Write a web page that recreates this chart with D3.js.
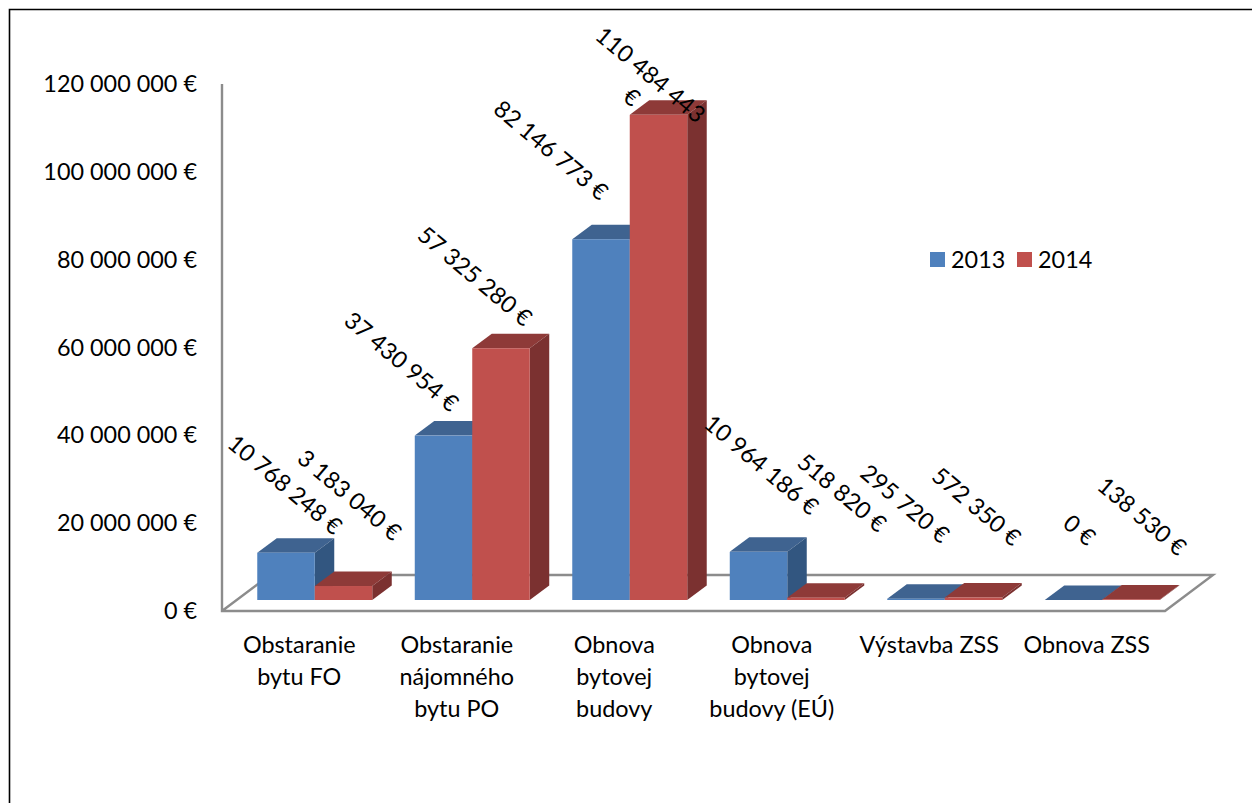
<!DOCTYPE html>
<html lang="sk">
<head>
    <meta charset="UTF-8">
    <title>Obstaranie a obnova 2013 / 2014</title>
    <script src="https://cdnjs.cloudflare.com/ajax/libs/d3/7.8.5/d3.min.js"></script>
    <style>
        html, body { margin: 0; padding: 0; background: #fff; overflow: hidden; }
        text { font-family: Lato, "Open Sans", sans-serif; fill: #000; }
    </style>
</head>
<body>
<script>
    const categories = [
        ['Obstaranie', 'bytu FO'],
        ['Obstaranie', 'nájomného', 'bytu PO'],
        ['Obnova', 'bytovej', 'budovy'],
        ['Obnova', 'bytovej', 'budovy (EÚ)'],
        ['Výstavba ZSS'],
        ['Obnova ZSS']
    ];
    const years = ['2013', '2014'];
    const values2013 = [10768248, 37430954, 82146773, 10964186, 295720, 0];
    const values2014 = [3183040, 57325280, 110484443, 518820, 572350, 138530];
    const yTicks = [0, 20000000, 40000000, 60000000, 80000000, 100000000, 120000000];

    const w = 1252, h = 803;
    const fontSize = 23.4;
    const colors = {
        '2013': {front: '#4f81bd', top: '#3f6390', side: '#325680'},
        '2014': {front: '#c0504d', top: '#8e3a38', side: '#7b3130'}
    };

    const svg = d3.select('body').append('svg')
        .attr('width', w)
        .attr('height', h)
        .style('display', 'block');

    // outer frame, it runs off the page on the right and at the bottom
    svg.append('path')
        .attr('d', 'M9.5,' + h + 'V9.5H' + w)
        .attr('fill', 'none')
        .attr('stroke', '#000')
        .attr('stroke-width', 1.6);

    const yScale = d3.scaleLinear()
        .domain([0, 120000000])
        .range([611, 84]);

    // one band per category, a sub band per year
    const xScale = d3.scaleBand()
        .domain(d3.range(categories.length))
        .range([236, 1181])
        .paddingInner(0.27)
        .paddingOuter(0.135);
    const xYear = d3.scaleBand()
        .domain(years)
        .range([0, xScale.bandwidth()]);

    // 3d projection
    const floorDx = 48, floorDy = 36, floorLift = 11;
    const barDx = 19.5, barDy = 14.5;
    const floorLeft = 222, floorRight = 1165;

    const yFormat = d => d3.format(',')(d).replace(/,/g, ' ') + ' €';

    // floor and wall
    const y0 = yScale(0);
    svg.append('path')
        .attr('d', 'M' + floorLeft + ',' + yScale(120000000) + 'V' + y0 + 'H' + floorRight
            + 'l' + floorDx + ',' + (-floorDy) + 'H' + (floorLeft + floorDx)
            + 'L' + floorLeft + ',' + y0)
        .attr('fill', 'none')
        .attr('stroke', '#8c8c8c')
        .attr('stroke-width', 2.4);

    const yAxis = d3.axisLeft(yScale)
        .tickValues(yTicks)
        .tickFormat(yFormat)
        .tickSize(0)
        .tickPadding(25);
    const yAxisG = svg.append('g')
        .attr('transform', 'translate(' + floorLeft + ',0)')
        .call(yAxis);
    yAxisG.select('.domain').remove();
    yAxisG.selectAll('text')
        .style('font-family', 'Lato, "Open Sans", sans-serif')
        .style('font-size', fontSize + 'px');

    // bars
    const rows = [];
    categories.forEach((c, i) => {
        rows.push({cat: i, year: '2013', value: values2013[i]});
        rows.push({cat: i, year: '2014', value: values2014[i]});
    });

    const bars = svg.selectAll('g.bar')
        .data(rows)
        .enter()
        .append('g')
        .attr('class', 'bar');

    const bx = d => xScale(d.cat) + xYear(d.year);
    const by = d => yScale(d.value) - floorLift;
    const bw = xYear.bandwidth();

    bars.append('path')
        .attr('d', d => 'M' + bx(d) + ',' + by(d) + 'l' + barDx + ',' + (-barDy)
            + 'h' + bw + 'l' + (-barDx) + ',' + barDy + 'z')
        .attr('fill', d => colors[d.year].top);
    bars.append('path')
        .attr('d', d => 'M' + (bx(d) + bw) + ',' + by(d) + 'l' + barDx + ',' + (-barDy)
            + 'V' + (y0 - floorLift - barDy) + 'l' + (-barDx) + ',' + barDy + 'z')
        .attr('fill', d => colors[d.year].side);
    bars.append('rect')
        .attr('x', bx)
        .attr('y', by)
        .attr('width', bw)
        .attr('height', d => y0 - floorLift - by(d))
        .attr('fill', d => colors[d.year].front);

    // value labels: hand placed in the original, nudges are [dx, dy] from the bar top centre
    const labelNudge2013 = [[-1, -68], [-42, -74], [-50, -89], [3, -87], [-11, -95], [6, -70]];
    const labelNudge2014 = [[6, -91], [-26, -72], [-8, -40], [26, -105], [3, -91], [11, -83]];

    bars.append('text')
        .attr('transform', d => {
            const n = (d.year === '2013' ? labelNudge2013 : labelNudge2014)[d.cat];
            return 'translate(' + (bx(d) + bw / 2 + n[0]) + ',' + (by(d) + n[1]) + ') rotate(40)';
        })
        .attr('text-anchor', 'middle')
        .attr('dy', '0.35em')
        .attr('font-size', fontSize)
        .each(function (d) {
            const label = yFormat(d.value);
            // the longest label wraps before the euro sign
            if (d.value > 100000000) {
                const t = d3.select(this);
                t.append('tspan').attr('x', 0).text(label.replace(' €', ''));
                t.append('tspan').attr('x', 0).attr('dy', '1.25em').text('€');
            } else {
                d3.select(this).text(label);
            }
        });

    // category labels
    svg.selectAll('text.cat')
        .data(categories)
        .enter()
        .append('text')
        .attr('class', 'cat')
        .attr('text-anchor', 'middle')
        .attr('font-size', fontSize)
        .each(function (lines, i) {
            d3.select(this).selectAll('tspan')
                .data(lines)
                .enter()
                .append('tspan')
                .attr('x', xScale(i) + xScale.bandwidth() / 2 - 15.5)
                .attr('y', (l, j) => 653 + j * 32)
                .text(l => l);
        });

    // legend
    const legendX = d3.scaleOrdinal().domain(years).range([930, 1017]);
    const legend = svg.selectAll('g.legend')
        .data(years)
        .enter()
        .append('g')
        .attr('class', 'legend')
        .attr('transform', d => 'translate(' + legendX(d) + ',252)');
    legend.append('rect')
        .attr('width', 15)
        .attr('height', 15)
        .attr('fill', d => colors[d].front);
    legend.append('text')
        .attr('x', 21)
        .attr('y', 16)
        .attr('font-size', fontSize)
        .text(d => d);
</script>
</body>
</html>
